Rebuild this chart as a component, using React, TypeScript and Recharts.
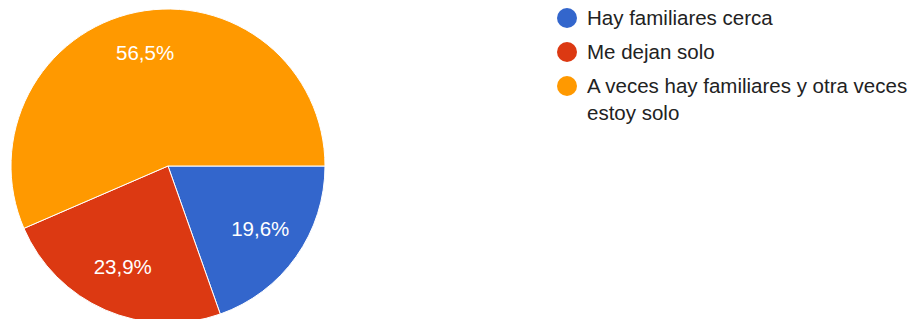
import { PieChart, Pie, Cell, Legend } from 'recharts';

const categories = [
  'Hay familiares cerca',
  'Me dejan solo',
  'A veces hay familiares y otra veces estoy solo',
];
const percentages = [19.6, 23.9, 56.5];
const colors = ['#3366cc', '#dc3912', '#ff9900'];

const data = categories.map((name, i) => ({ name, value: percentages[i] }));

const RADIAN = Math.PI / 180;

const renderLabel = (props: any) => {
  const { cx, cy, midAngle, outerRadius, value } = props;
  const r = outerRadius * 0.72;
  const x = cx + r * Math.cos(-midAngle * RADIAN);
  const y = cy + r * Math.sin(-midAngle * RADIAN) - 3;
  return (
    <text
      x={x}
      y={y}
      fill="#ffffff"
      textAnchor="middle"
      dominantBaseline="central"
      fontSize={20.5}
      fontFamily="'Liberation Sans', Arial, sans-serif"
    >
      {value.toFixed(1).replace('.', ',')}%
    </text>
  );
};

const renderLegend = () => (
  <div
    style={{
      fontFamily: "'Liberation Sans', Arial, sans-serif",
      fontSize: 20.5,
      color: '#222222',
      width: 355,
    }}
  >
    {categories.map((name, i) => (
      <div key={name} style={{ display: 'flex', alignItems: 'flex-start', marginBottom: 7 }}>
        <span
          style={{
            display: 'inline-block',
            width: 20,
            height: 20,
            borderRadius: '50%',
            background: colors[i],
            marginTop: 4,
            marginRight: 10,
            flexShrink: 0,
          }}
        />
        <span style={{ lineHeight: '27px' }}>{name}</span>
      </div>
    ))}
  </div>
);

export default function App() {
  return (
    <div style={{ position: 'absolute', left: 0, top: 0, width: 921, height: 319, background: '#fff' }}>
      <PieChart width={921} height={319} margin={{ top: 0, right: 0, bottom: 0, left: 0 }}>
        <Pie
          data={data}
          dataKey="value"
          nameKey="name"
          cx={168}
          cy={166}
          outerRadius={157}
          startAngle={0}
          endAngle={-360}
          stroke="#ffffff"
          strokeWidth={1}
          label={renderLabel}
          labelLine={false}
          isAnimationActive={false}
        >
          {data.map((d, i) => (
            <Cell key={d.name} fill={colors[i]} />
          ))}
        </Pie>
        <Legend
          content={renderLegend}
          wrapperStyle={{ position: 'absolute', left: 557, top: 4, width: 364 }}
        />
      </PieChart>
    </div>
  );
}
